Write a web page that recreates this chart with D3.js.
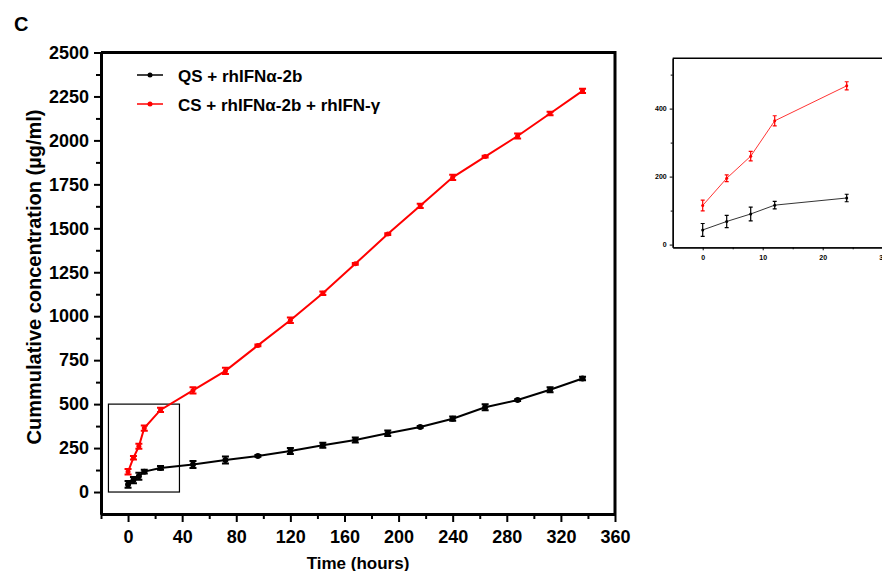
<!DOCTYPE html>
<html>
<head>
<meta charset="utf-8">
<script src="https://cdn.jsdelivr.net/npm/d3@7"></script>
<style>
  body { margin: 0; background: #fff; }
  svg { display: block; font-family: Arial, "Liberation Sans", sans-serif; }
</style>
</head>
<body>
<div id="chart"></div>
<script>
// data
const hours = [0, 4, 8, 12, 24, 48, 72, 96, 120, 144, 168, 192, 216, 240, 264, 288, 312, 336];
const qsMean = [43, 68, 90, 116, 137, 157, 182, 205, 233, 266, 296, 334, 370, 417, 482, 523, 582, 646];
const qsErr  = [19, 18, 20, 11, 11, 20, 20, 5, 17, 14, 14, 16, 5, 12, 17, 5, 14, 10];
const csMean = [115, 195, 260, 364, 467, 578, 689, 834, 977, 1131, 1298, 1467, 1628, 1790, 1908, 2025, 2153, 2282];
const csErr  = [16, 10, 14, 15, 12, 18, 18, 5, 15, 10, 5, 5, 12, 15, 5, 14, 10, 12];
const insetCount = 5; // 0-24 h shown in the zoom panel

const xMajor = [0, 40, 80, 120, 160, 200, 240, 280, 320, 360];
const xMinor = [-20, 20, 60, 100, 140, 180, 220, 260, 300, 340];
const yMajor = [0, 250, 500, 750, 1000, 1250, 1500, 1750, 2000, 2250, 2500];
const yMinor = [125, 375, 625, 875, 1125, 1375, 1625, 1875, 2125, 2375];
const insetXMajor = [0, 10, 20, 30];
const insetXMinor = [5, 15, 25];
const insetYMajor = [0, 200, 400];
const insetYMinor = [100, 300, 500];

const seriesNames = ["QS + rhIFNα-2b", "CS + rhIFNα-2b + rhIFN-γ"];
const seriesColors = ["#000000", "#ff0000"];

const series = [
  hours.map((h, i) => ({ t: h, v: qsMean[i], e: qsErr[i] })),
  hours.map((h, i) => ({ t: h, v: csMean[i], e: csErr[i] }))
];

const W = 882, H = 571;
const svg = d3.select("#chart").append("svg").attr("width", W).attr("height", H);

// ---------- main chart ----------
const x = d3.scaleLinear().domain([-20, 360]).range([101, 615]);
const y = d3.scaleLinear().domain([-125, 2500]).range([514, 52.5]);

svg.append("text").attr("x", 14).attr("y", 31)
  .style("font-size", "20px").style("font-weight", "bold").text("C");

// frame top/right
svg.append("path")
  .attr("d", `M${x(-20)},${y(2500)}H${x(360)}V${y(-125)}`)
  .attr("fill", "none").attr("stroke", "#000").attr("stroke-width", 3);

function styleAxis(g, w) {
  g.select(".domain").attr("stroke", "#000").attr("stroke-width", w);
  g.selectAll(".tick line").attr("stroke", "#000").attr("stroke-width", 2);
  g.selectAll(".tick text").style("font-weight", "bold").attr("fill", "#000");
}

svg.append("g").attr("transform", `translate(0,${y(-125)})`)
  .call(d3.axisBottom(x).tickValues(xMinor).tickFormat("").tickSize(5).tickSizeOuter(0))
  .call(g => styleAxis(g, 3));
svg.append("g").attr("transform", `translate(0,${y(-125)})`)
  .call(d3.axisBottom(x).tickValues(xMajor).tickFormat(d3.format("d")).tickSize(8).tickSizeOuter(0).tickPadding(8))
  .call(g => styleAxis(g, 3))
  .call(g => g.selectAll(".tick text").style("font-size", "18px"));

svg.append("g").attr("transform", `translate(${x(-20)},0)`)
  .call(d3.axisLeft(y).tickValues(yMinor).tickFormat("").tickSize(5).tickSizeOuter(0))
  .call(g => styleAxis(g, 3));
svg.append("g").attr("transform", `translate(${x(-20)},0)`)
  .call(d3.axisLeft(y).tickValues(yMajor).tickFormat(d3.format("d")).tickSize(7).tickSizeOuter(0).tickPadding(5))
  .call(g => styleAxis(g, 3))
  .call(g => g.selectAll(".tick text").style("font-size", "18px"));

svg.append("text")
  .attr("transform", `translate(41,277) rotate(-90)`)
  .attr("text-anchor", "middle")
  .style("font-size", "20px").style("font-weight", "bold")
  .text("Cummulative concentration (µg/ml)");

svg.append("text").attr("x", (x(-20) + x(360)) / 2).attr("y", 569)
  .attr("text-anchor", "middle")
  .style("font-size", "17px").style("font-weight", "bold")
  .text("Time (hours)");

// zoom box
svg.append("rect")
  .attr("x", x(-14.5)).attr("y", y(500))
  .attr("width", x(38) - x(-14.5)).attr("height", y(0) - y(500))
  .attr("fill", "none").attr("stroke", "#000").attr("stroke-width", 1.2);

function drawSeries(g, data, xs, ys, color, lw, capW, r, ew) {
  g.append("path").datum(data)
    .attr("fill", "none").attr("stroke", color).attr("stroke-width", lw)
    .attr("d", d3.line().x(d => xs(d.t)).y(d => ys(d.v)));
  const eb = g.append("g").attr("stroke", color).attr("stroke-width", ew).attr("fill", "none");
  eb.selectAll("path").data(data).join("path")
    .attr("d", d => {
      const cx = xs(d.t), y1 = ys(d.v + d.e), y2 = ys(d.v - d.e);
      return `M${cx},${y1}V${y2}M${cx - capW / 2},${y1}H${cx + capW / 2}M${cx - capW / 2},${y2}H${cx + capW / 2}`;
    });
  g.selectAll("circle.pt").data(data).join("circle").attr("class", "pt")
    .attr("cx", d => xs(d.t)).attr("cy", d => ys(d.v)).attr("r", r).attr("fill", color);
}

const plot = svg.append("g");
drawSeries(plot.append("g"), series[0], x, y, seriesColors[0], 2, 7, 3, 2);
drawSeries(plot.append("g"), series[1], x, y, seriesColors[1], 2, 7, 2.5, 2);

// legend
const legend = svg.append("g");
seriesNames.forEach((name, i) => {
  const ly = 75 + i * 29;
  legend.append("line").attr("x1", 137).attr("x2", 163).attr("y1", ly).attr("y2", ly)
    .attr("stroke", seriesColors[i]).attr("stroke-width", 1.5);
  legend.append("circle").attr("cx", 150).attr("cy", ly).attr("r", 2.5).attr("fill", seriesColors[i]);
  legend.append("text").attr("x", 178).attr("y", ly + 6.5)
    .style("font-size", "17px").style("font-weight", "bold").text(name);
});

// ---------- inset ----------
const ix = d3.scaleLinear().domain([-5, 32]).range([672.7, 894.7]);
const iy = d3.scaleLinear().domain([-8, 548]).range([247.3, 58.3]);
const inset = svg.append("g");

inset.append("path")
  .attr("d", `M${ix(-5)},${iy(548)}H${W}`)
  .attr("fill", "none").attr("stroke", "#000").attr("stroke-width", 1.5);

function styleInset(g) {
  g.select(".domain").attr("stroke", "#000").attr("stroke-width", 1.3);
  g.selectAll(".tick line").attr("stroke", "#000").attr("stroke-width", 1);
  g.selectAll(".tick text").style("font-size", "7px").style("font-weight", "bold").attr("fill", "#000");
}

inset.append("g").attr("transform", `translate(0,${iy(-8)})`)
  .call(d3.axisBottom(ix).tickValues(insetXMinor).tickFormat("").tickSize(2).tickSizeOuter(0))
  .call(styleInset);
inset.append("g").attr("transform", `translate(0,${iy(-8)})`)
  .call(d3.axisBottom(ix).tickValues(insetXMajor).tickSize(3).tickSizeOuter(0).tickPadding(5))
  .call(styleInset);
inset.append("g").attr("transform", `translate(${ix(-5)},0)`)
  .call(d3.axisLeft(iy).tickValues(insetYMinor).tickFormat("").tickSize(2).tickSizeOuter(0))
  .call(styleInset);
inset.append("g").attr("transform", `translate(${ix(-5)},0)`)
  .call(d3.axisLeft(iy).tickValues(insetYMajor).tickSize(3).tickSizeOuter(0).tickPadding(3))
  .call(styleInset);

drawSeries(inset.append("g"), series[0].slice(0, insetCount), ix, iy, seriesColors[0], 0.8, 4, 1.5, 1.2);
drawSeries(inset.append("g"), series[1].slice(0, insetCount), ix, iy, seriesColors[1], 0.8, 4, 1.5, 1.2);
</script>
</body>
</html>
